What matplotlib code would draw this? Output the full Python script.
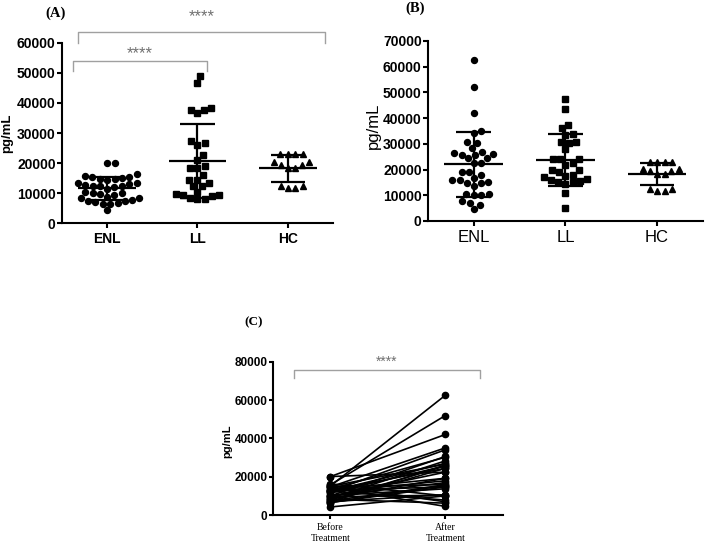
import numpy as np
import matplotlib
matplotlib.use("Agg")
import matplotlib.pyplot as plt

plt.rcParams['font.family'] = ['Liberation Sans', 'DejaVu Sans']

# values (pg/mL)
groups = ['ENL', 'LL', 'HC']
enl_before = [20100, 20100, 16300, 15800, 15500, 15200, 15000, 14800, 14700, 14500,
              13500, 13200, 13000, 12800, 12500, 12500, 12300, 12000, 11500, 10200,
              10000, 10000, 9800, 9500, 8800, 8500, 8200, 7800, 7500, 7200,
              7000, 6800, 6500, 6500, 4200]
# same patients after treatment (paired with enl_before)
enl_after = [42100, 22400, 10000, 52000, 6900, 62600, 26600, 15900, 35100, 4500,
             30200, 19200, 24400, 14700, 27000, 7800, 34100, 17900, 25700, 13700,
             30600, 16900, 22400, 10400, 28300, 19200, 6200, 25700, 15300, 24400,
             10600, 26100, 14700, 15900, 10000]
ll_before = [49000, 46600, 38400, 37700, 37700, 36600, 27300, 26800, 26000, 22700,
             21000, 19000, 18200, 18200, 16000, 14500, 14500, 13400, 12300, 12300,
             10400, 9600, 9300, 9100, 8400, 7900, 7900, 9300]
ll_after = [47300, 43600, 37200, 36000, 34000, 33500, 30800, 30500, 30800, 27900,
            24000, 24000, 24000, 22400, 21800, 19800, 20000, 19200, 18000, 17500,
            17000, 16500, 16000, 15500, 15000, 15000, 14500, 10800, 4900]
hc = [22900, 22900, 22900, 22900, 20200, 19500, 19500, 20200, 18200, 18200,
      12300, 11700, 11700, 12300]
pair_labels = ['Before\nTreatment', 'After\nTreatment']


def swarm_x(ax, xc, vals, d):
    # simple beeswarm in pixel space, d = spacing between marker centres in px
    pts = ax.transData.transform(np.column_stack([np.full(len(vals), xc), vals]))
    cx = pts[0, 0]
    ys = pts[:, 1]
    xs = np.zeros(len(vals))
    placed = []
    for i in np.argsort(ys):
        y = ys[i]
        cands = [0.0]
        for px, py in placed:
            dy = abs(py - y)
            if dy < d:
                dx = np.sqrt(d * d - dy * dy)
                cands += [px + dx, px - dx]
        cands.sort(key=abs)
        for c in cands:
            if all((c - px) ** 2 + (y - py) ** 2 >= d * d - 1e-6 for px, py in placed):
                break
        placed.append((c, y))
        xs[i] = c
    back = ax.transData.inverted().transform(np.column_stack([cx + xs, ys]))
    return back[:, 0]


def style_axes(ax):
    for s in ['top', 'right']:
        ax.spines[s].set_visible(False)
    for s in ['left', 'bottom']:
        ax.spines[s].set_linewidth(1.5)
    ax.tick_params(width=1.5, length=3.5, pad=1)


def dot_panel(ax, data, markers, ymax, step):
    ax.set_xlim(-0.5, 2.5)
    ax.set_ylim(0, ymax)
    for i, (vals, m) in enumerate(zip(data, markers)):
        vals = np.array(vals, dtype=float)
        xs = swarm_x(ax, i, vals, 7.5)
        ax.plot(xs, vals, m, color='black', ms=4.3, ls='none', zorder=2)
        mu = vals.mean()
        sd = vals.std(ddof=1)
        ax.hlines(mu, i - 0.32, i + 0.32, color='black', lw=1.6, zorder=3)
        ax.vlines(i, mu - sd, mu + sd, color='black', lw=1.6, zorder=3)
        ax.hlines([mu - sd, mu + sd], i - 0.19, i + 0.19, color='black', lw=1.6, zorder=3)
    ax.set_yticks(np.arange(0, ymax + 1, step))
    ax.set_xticks(range(len(groups)))
    style_axes(ax)
    ax.tick_params(axis='x', pad=3)


def bracket(ax, x0, x1, ytop, ybot, ytext, fs):
    ax.plot([x0, x0, x1, x1], [ybot, ytop, ytop, ybot], color='#a0a0a0', lw=1,
            clip_on=False)
    ax.text((x0 + x1) / 2, ytext, '****', color='#707070', ha='center', va='center',
            fontsize=fs, clip_on=False)


fig = plt.figure(figsize=(7.05, 5.44), dpi=100)

# (A)
axA = fig.add_axes([0.0879, 0.590, 0.3844, 0.331])
dot_panel(axA, [enl_before, ll_before, hc], ['o', 's', '^'], 60000, 10000)
axA.set_xticklabels(groups, fontsize=10, fontweight='bold')
for t in axA.get_yticklabels():
    t.set_fontsize(10)
    t.set_fontweight('bold')
axA.set_ylabel('pg/mL', fontsize=9.5, fontweight='bold')
axA.yaxis.set_label_coords(-0.18, 0.5)
bracket(axA, -0.32, 2.41, 63700, 60000, 68800, 12)
bracket(axA, -0.38, 1.105, 54000, 50700, 56500, 12)
fig.text(56 / 705, 1 - 13 / 544, '(A)', family='Liberation Serif', fontweight='bold',
         fontsize=10.5, ha='center', va='center')

# (B)
axB = fig.add_axes([0.607, 0.5938, 0.390, 0.331])
dot_panel(axB, [enl_after, ll_after, hc], ['o', 's', '^'], 70000, 10000)
axB.set_xticklabels(groups, fontsize=12)
for t in axB.get_yticklabels():
    t.set_fontsize(10)
    t.set_fontweight('bold')
axB.set_ylabel('pg/mL', fontsize=12)
axB.yaxis.set_label_coords(-0.17, 0.53)
fig.text(415 / 705, 1 - 8 / 544, '(B)', family='Liberation Serif', fontweight='bold',
         fontsize=10.5, ha='center', va='center')

# (C) paired before / after
axC = fig.add_axes([0.3872, 0.0533, 0.326, 0.2813])
for b, a in zip(enl_before, enl_after):
    axC.plot([0, 1], [b, a], '-o', color='black', lw=1.2, ms=4.5)
axC.set_xlim(-0.5, 1.5)
axC.set_ylim(0, 80000)
axC.set_yticks(np.arange(0, 80001, 20000))
axC.set_xticks([0, 1])
axC.set_xticklabels(pair_labels, family='Liberation Serif', fontsize=7,
                    linespacing=1.2)
for t in axC.get_yticklabels():
    t.set_fontsize(8.5)
    t.set_fontweight('bold')
style_axes(axC)
axC.tick_params(length=3, pad=1)
axC.tick_params(axis='x', pad=3)
axC.set_ylabel('pg/mL', fontsize=8, fontweight='bold')
axC.yaxis.set_label_coords(-0.175, 0.48)
bracket(axC, -0.32, 1.30, 75800, 71600, 80000, 10)
fig.text(254 / 705, 1 - 322 / 544, '(C)', family='Liberation Serif', fontweight='bold',
         fontsize=9.5, ha='center', va='center')

plt.savefig('out.png', dpi=100)
